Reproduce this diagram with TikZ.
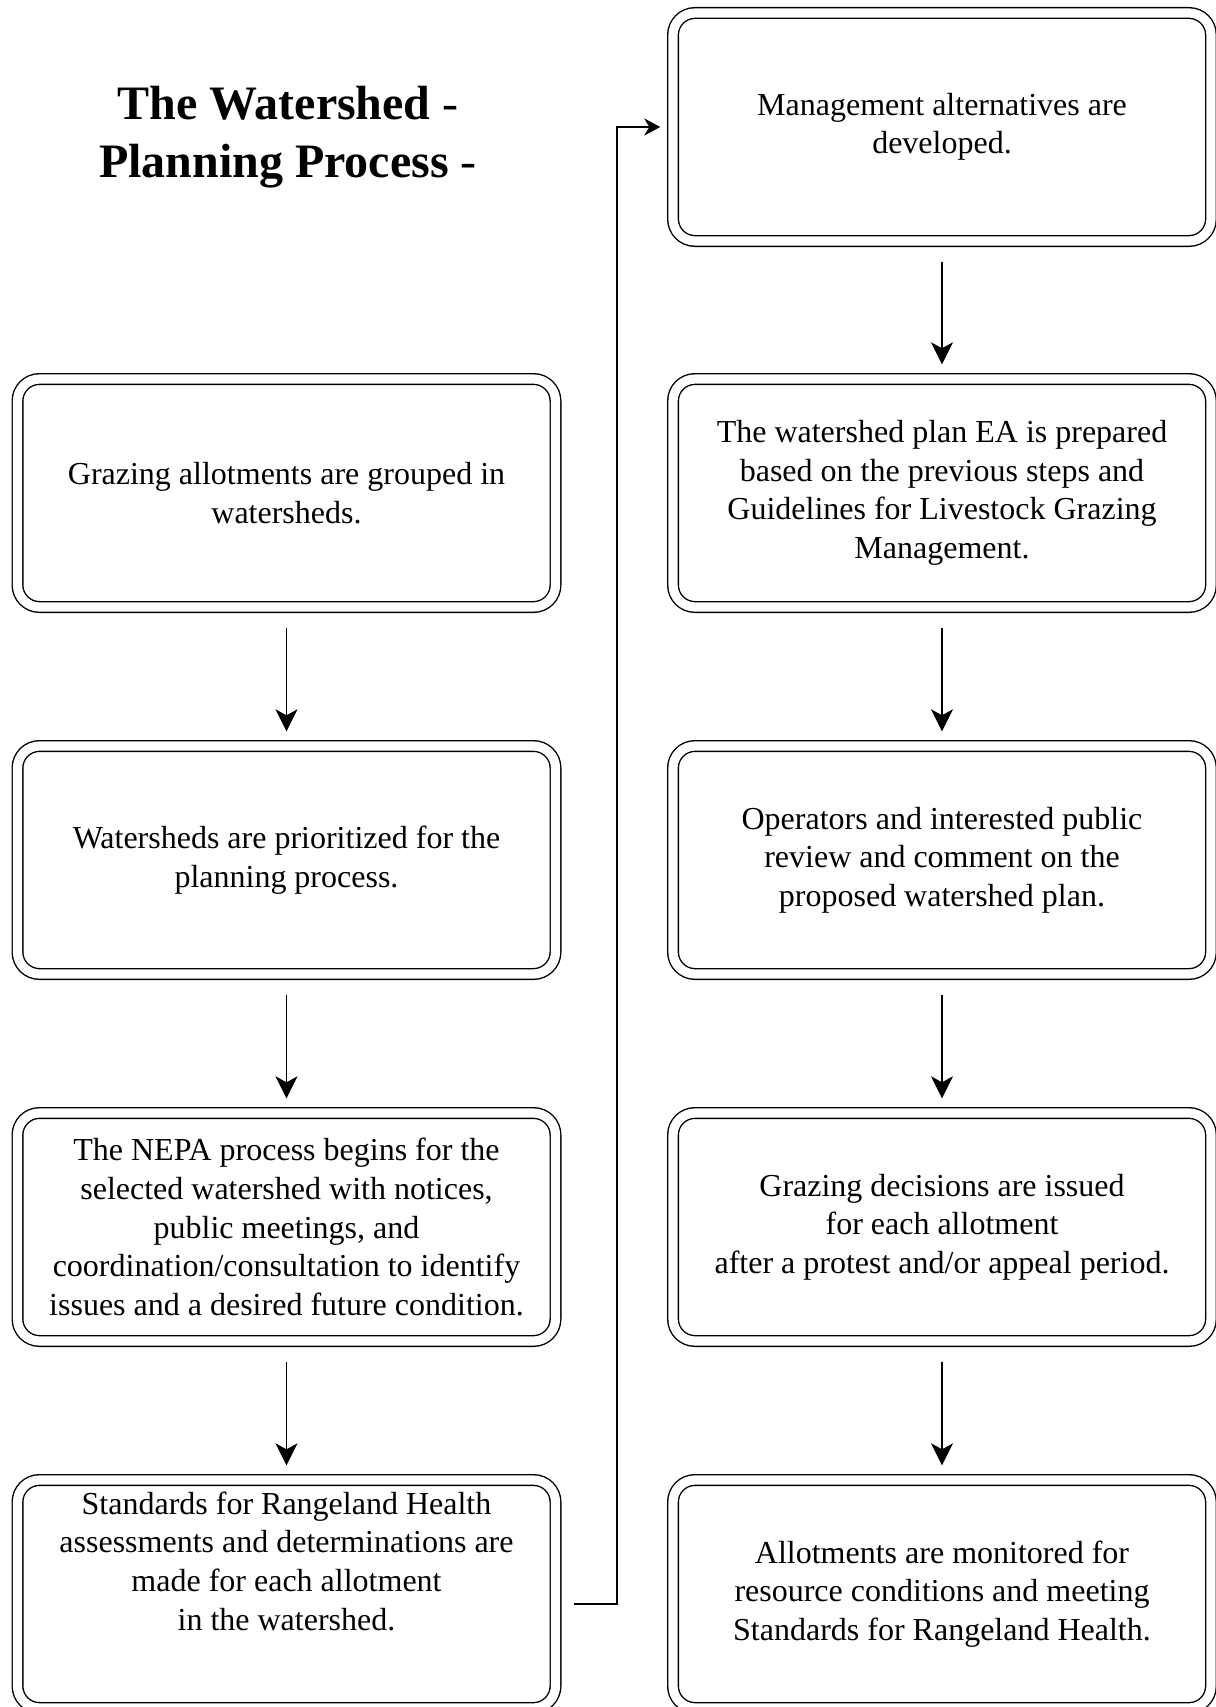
\documentclass[tikz,border=0pt]{standalone}
\usepackage{fontspec}
\setmainfont{Liberation Serif}
\usetikzlibrary{arrows.meta,positioning}

\begin{document}
\begin{tikzpicture}[x=0.5pt, y=-0.5pt,
  procbox/.style={draw, double, double distance=4.6pt, line width=0.7pt,
    rounded corners=11pt, minimum width=269pt, minimum height=114pt,
    inner sep=0pt, align=center, font=\fontsize{16}{19.3}\selectfont},
  flow/.style={line width=0.85pt, -{Stealth[length=11pt, width=11pt, inset=3pt]},
    shorten <=10pt, shorten >=7pt}]
\useasboundingbox (0,0) rectangle (1215,1707);
% title
\node (title) [align=center, font=\fontsize{24}{29}\selectfont] at (288,137)
  {\textbf{The Watershed} -\\\textbf{Planning Process} -};
% left column
\node (group) [procbox] at (286.5,493) {Grazing allotments are grouped in\\watersheds.};
\node (prior) [procbox] at (286.5,860) {Watersheds are prioritized for the\\planning process.};
\node (nepa) [procbox] at (286.5,1227) {The NEPA process begins for the\\selected watershed with notices,\\public meetings, and\\coordination/consultation to identify\\issues and a desired future condition.};
\node (standards) [procbox, text depth=33pt] at (286.5,1594) {Standards for Rangeland Health\\assessments and determinations are\\made for each allotment\\in the watershed.};
% right column
\node (alt) [procbox] at (942,127) {Management alternatives are\\developed.};
\node (ea) [procbox] at (942,493) {The watershed plan EA is prepared\\based on the previous steps and\\Guidelines for Livestock Grazing\\Management.};
\node (review) [procbox] at (942,860) {Operators and interested public\\review and comment on the\\proposed watershed plan.};
\node (decision) [procbox] at (942,1227) {Grazing decisions are issued\\for each allotment\\after a protest and/or appeal period.};
\node (monitor) [procbox] at (942,1594) {Allotments are monitored for\\resource conditions and meeting\\Standards for Rangeland Health.};
% arrows
\draw[flow] (group) -- (prior);
\draw[flow] (prior) -- (nepa);
\draw[flow] (nepa) -- (standards);
\draw[flow, -{Stealth[length=8pt, width=8.5pt, inset=2.5pt]}, shorten <=9pt, shorten >=6pt]
  ([yshift=-5pt]standards.east) -- ++(61,0) |- (alt.west);
\draw[flow] (alt) -- (ea);
\draw[flow] (ea) -- (review);
\draw[flow] (review) -- (decision);
\draw[flow] (decision) -- (monitor);
\end{tikzpicture}
\end{document}
